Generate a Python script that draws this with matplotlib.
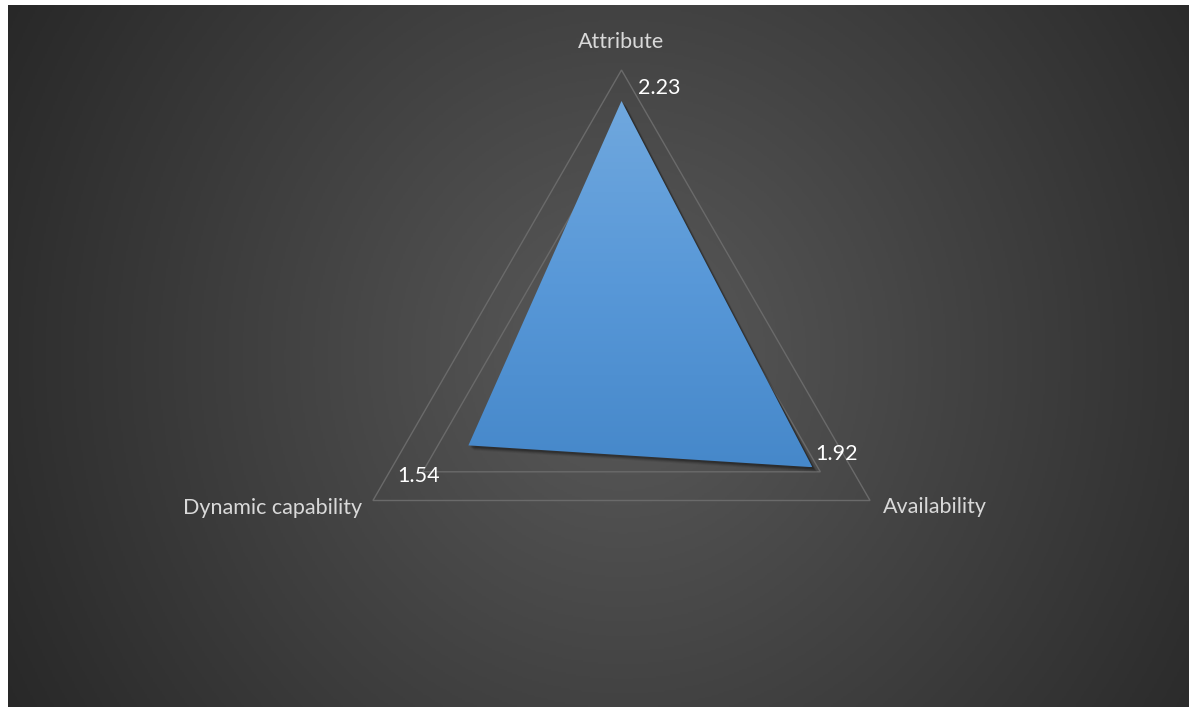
import numpy as np
import matplotlib
matplotlib.use("Agg")
import matplotlib.pyplot as plt
from matplotlib.patches import Polygon
from matplotlib import transforms
from matplotlib.colors import LinearSegmentedColormap

# radar data
categories = ["Attribute", "Availability", "Dynamic capability"]
scores = [2.23, 1.92, 1.54]
value_labels = ["2.23", "1.92", "1.54"]
grid_levels = [2.0, 2.5]
r_max = 2.5

W, H, DPI = 1189, 707, 100
fig = plt.figure(figsize=(W / DPI, H / DPI), dpi=DPI, facecolor="white")

# dark chart area with radial gradient
bg = fig.add_axes([8 / W, 0, 1 - 8 / W, 702 / H])
bg.set_axis_off()
ny, nx = 400, 700
yy, xx = np.mgrid[0:ny, 0:nx]
cx, cy = nx * 0.52, ny * 0.50
d = np.sqrt(((xx - cx) / nx) ** 2 + ((yy - cy) / nx) ** 2) / 0.62
d = np.clip(d, 0, 1)
bg_cmap = LinearSegmentedColormap.from_list("bg", ["#5a5a5a", "#262626"])
bg.imshow(d, cmap=bg_cmap, aspect="auto", extent=[0, 1, 0, 1], vmin=0, vmax=1)
bg.set_xlim(0, 1)
bg.set_ylim(0, 1)

# radar axes: one data unit = px_per_unit pixels, centre placed in the chart
px_per_unit = 287 / r_max
ctr_x, ctr_y = 621.5, 707 - 357
ax = fig.add_axes([0, 0, 1, 1])
ax.set_axis_off()
ax.patch.set_alpha(0)

angles = np.pi / 2 - np.arange(len(categories)) * 2 * np.pi / len(categories)


def to_xy(vals):
    vals = np.asarray(vals, dtype=float)
    return np.column_stack([vals * np.cos(angles), vals * np.sin(angles)])


# triangular gridlines
for lvl in grid_levels:
    ring = to_xy([lvl] * len(categories))
    ax.add_patch(Polygon(ring, closed=True, fill=False, edgecolor="#6a6a6a",
                         lw=1.0, zorder=1))

pts = to_xy(scores)

# soft shadow below the filled area
for dx, dy, a in [(5, -5, 0.06), (4, -4, 0.1), (3, -3, 0.14), (2, -2, 0.18)]:
    off = transforms.offset_copy(ax.transData, fig=fig, x=dx, y=dy, units="dots")
    ax.add_patch(Polygon(pts, closed=True, facecolor="black", edgecolor="none",
                         alpha=a, transform=off, zorder=2))

# filled series with vertical gradient
fill_poly = Polygon(pts, closed=True, facecolor="none", edgecolor="none", zorder=3)
ax.add_patch(fill_poly)
grad = np.linspace(0, 1, 256).reshape(-1, 1)
blue_cmap = LinearSegmentedColormap.from_list("blue", ["#4688ca", "#5898d8", "#70a8de"])
img = ax.imshow(grad, cmap=blue_cmap, origin="lower", aspect="auto",
                extent=[pts[:, 0].min(), pts[:, 0].max(), pts[:, 1].min(), pts[:, 1].max()],
                zorder=3)
img.set_clip_path(fill_poly)
ax.set_xlim(-ctr_x / px_per_unit, (W - ctr_x) / px_per_unit)
ax.set_ylim(-ctr_y / px_per_unit, (H - ctr_y) / px_per_unit)

font = "Lato"
fs = 15.5

# category labels outside the outer ring
outer = to_xy([r_max] * len(categories))
cat_style = [((0, 28), "center", "center"), ((13, -7), "left", "center"), ((-11, -7), "right", "center")]
for name, (x, y), (off, ha, va) in zip(categories, outer, cat_style):
    ax.annotate(name, (x, y), xytext=off, textcoords="offset pixels", ha=ha, va=va,
                color="#d9d9d9", fontsize=fs, family=font)

# value labels next to each point
val_style = [((17, 13), "left", "center"), ((3, 13), "left", "center"), ((-50, -31), "center", "center")]
for lab, (x, y), (off, ha, va) in zip(value_labels, pts, val_style):
    ax.annotate(lab, (x, y), xytext=off, textcoords="offset pixels", ha=ha, va=va,
                color="white", fontsize=fs, family=font)

fig.savefig("out.png", dpi=DPI, facecolor="white")
